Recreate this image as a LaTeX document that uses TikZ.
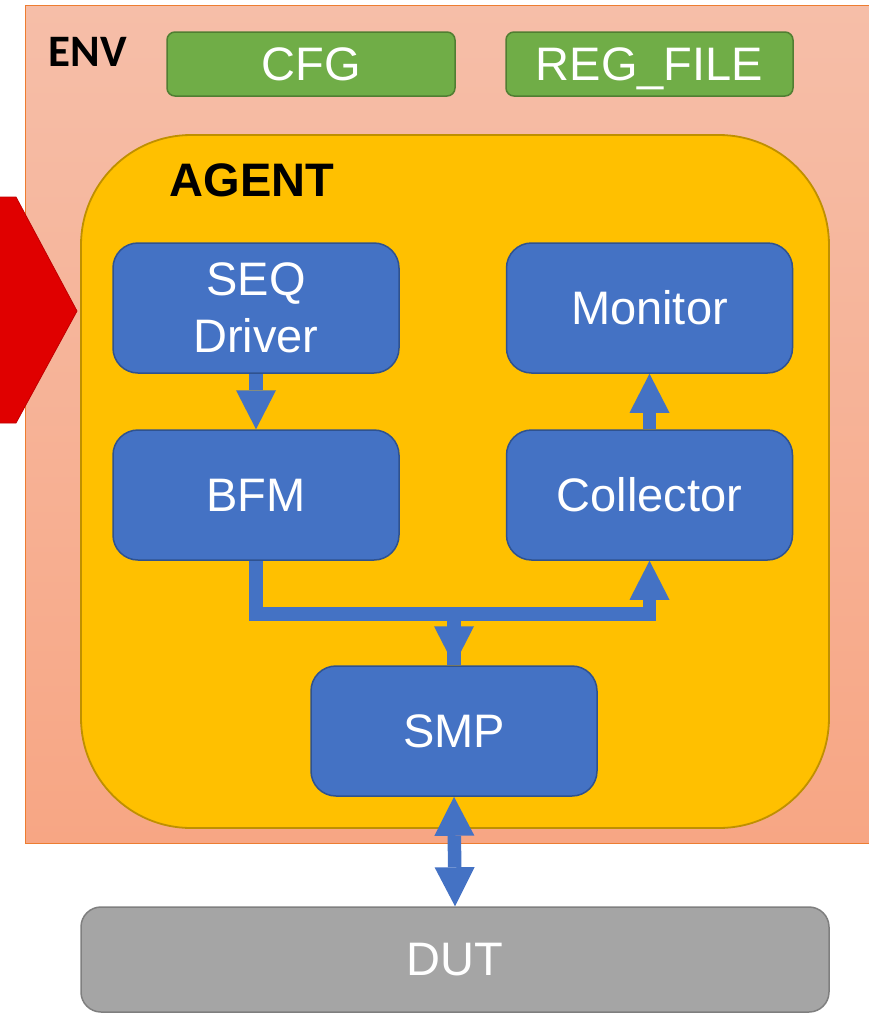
\documentclass[tikz,border=0pt]{standalone}
\usepackage{fontspec}
\setmainfont{Liberation Sans}
\newfontfamily\envfont{Carlito}
\usetikzlibrary{arrows.meta,calc}

\definecolor{envtop}{RGB}{246,190,168}
\definecolor{envbot}{RGB}{247,166,132}
\definecolor{envline}{RGB}{237,125,49}
\definecolor{agentfill}{RGB}{255,192,0}
\definecolor{agentline}{RGB}{191,144,0}
\definecolor{blk}{RGB}{68,114,196}
\definecolor{blkline}{RGB}{47,82,143}
\definecolor{grn}{RGB}{112,173,71}
\definecolor{grnline}{RGB}{80,126,50}
\definecolor{dutfill}{RGB}{165,165,165}
\definecolor{dutline}{RGB}{127,127,127}
\definecolor{redarrow}{RGB}{224,0,0}
\definecolor{redline}{RGB}{192,0,0}

\tikzset{
  bigtext/.style={font=\fontsize{47}{57}\selectfont},
  block/.style={draw=blkline, fill=blk, line width=1.5pt, rounded corners=25pt,
    minimum width=286pt, minimum height=130pt, inner sep=0pt, text=white,
    align=center, bigtext},
  cfgbox/.style={draw=grnline, fill=grn, line width=1.5pt, rounded corners=8pt,
    minimum width=287pt, minimum height=64pt, inner sep=0pt, text=white, bigtext,
    text depth=0pt},
  dutbox/.style={draw=dutline, fill=dutfill, line width=1.5pt, rounded corners=20pt,
    minimum width=748pt, minimum height=105pt, inner sep=0pt, text=white, bigtext,
    text depth=0pt},
  agentbox/.style={draw=agentline, fill=agentfill, line width=1.8pt, rounded corners=110pt,
    minimum width=748pt, minimum height=693pt, inner sep=0pt},
  envbox/.style={draw=envline, line width=1pt, top color=envtop, bottom color=envbot,
    minimum width=860pt, minimum height=838pt, inner sep=0pt},
  fathead/.tip={Triangle[width=40pt,length=39pt,line width=0pt]},
  fatarrow/.style={draw=blk, line width=13.5pt, line join=miter, -fathead},
  fatshaft/.style={draw=blk, line width=13.5pt},
}

\begin{document}
\begin{tikzpicture}[x=1pt,y=-1pt]
  \clip (0,0) rectangle (869,1013);

  % environment frame
  \node[envbox] (env) at (455,424) {};
  \node[anchor=west, font=\envfont\bfseries\fontsize{45}{45}\selectfont] (envlabel) at (45,52) {ENV};

  % configuration objects
  \node[cfgbox, minimum width=288pt] (cfg) at (311,64) {CFG};
  \node[cfgbox] (regfile) at (649.5,64) {REG\_FILE};

  % red stimulus arrow entering the agent
  \draw[fill=redarrow, draw=redline, line width=0.8pt]
    (-5,197) -- (16,197) -- (77,311) -- (16,423) -- (-5,423) -- cycle;

  % agent container
  \node[agentbox] (agent) at (455,481.5) {};
  \node[anchor=west, font=\bfseries\fontsize{47}{47}\selectfont] (agentlabel) at (166,180) {AGENT};

  % agent components
  \node[block] (seq) at (256,308) {SEQ\\Driver};
  \node[block] (mon) at (649.5,308) {Monitor};
  \node[block] (bfm) at (256,495) {BFM};
  \node[block] (col) at (649.5,495) {Collector};
  \node[block] (smp) at (454,731) {SMP};

  % device under test
  \node[dutbox] (dut) at (455,959.5) {DUT};

  % connections
  \draw[fatarrow] (seq.south) -- (bfm.north);
  \draw[fatarrow] (col.north) -- (mon.south);

  \coordinate (bar) at ($(bfm.south)+(0,53)$);
  \draw[fatarrow] (bfm.south) -- (bar) -| (col.south);
  \draw[fatshaft] (bar -| smp.north) -- (smp.north);
  \draw[fatarrow] (bar -| smp.north) -- (smp.north);

  \draw[fatarrow, fathead-fathead] (smp.south) -- (dut.north);
\end{tikzpicture}
\end{document}
